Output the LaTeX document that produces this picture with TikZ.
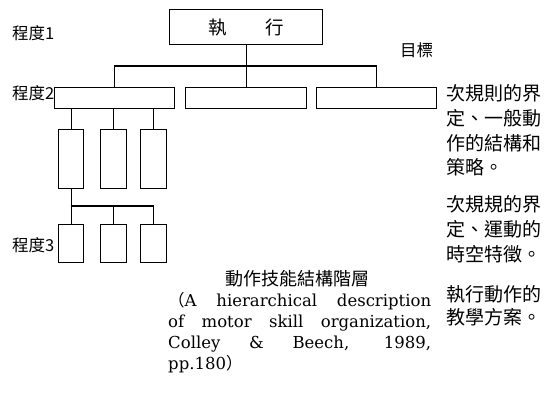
\documentclass[tikz,border=0pt]{standalone}
\usepackage{fontspec}
\newfontfamily\cjk{Noto Sans CJK TC}
\newfontfamily\engfont{DejaVu Serif}
\begin{document}
\begin{tikzpicture}[x=1pt,y=-1pt,
  box/.style={draw, line width=1.1pt, inner sep=0pt, anchor=north west},
  conn/.style={line width=1.1pt},
  lvl/.style={anchor=west, inner sep=0pt, font=\cjk\fontsize{16.5}{18}\selectfont},
  side/.style={anchor=west, inner sep=0pt, font=\cjk\fontsize{19}{22}\selectfont},
  eng/.style={anchor=base west, inner sep=0pt, font=\engfont\fontsize{16.5}{18}\selectfont}]
\useasboundingbox (0,0) rectangle (552,392);
% level 1
\node[box, minimum width=153pt, minimum height=35pt] (top) at (169,9) {};
\node[inner sep=0pt, font=\cjk\fontsize{18.5}{20}\selectfont] (toptxt) at (top.center) {執\hspace{38pt}行};
% level 2
\node[box, minimum width=120pt, minimum height=21pt] (l2a) at (54,87) {};
\node[box, minimum width=121pt, minimum height=21pt] (l2b) at (185,87) {};
\node[box, minimum width=120pt, minimum height=21pt] (l2c) at (316,87) {};
% tall boxes
\node[box, minimum width=25pt, minimum height=59pt] (t1) at (58,129) {};
\node[box, minimum width=26pt, minimum height=59pt] (t2) at (100,129) {};
\node[box, minimum width=26pt, minimum height=59pt] (t3) at (140,129) {};
% level 3
\node[box, minimum width=25pt, minimum height=38pt] (b1) at (58,224) {};
\node[box, minimum width=26pt, minimum height=38pt] (b2) at (100,224) {};
\node[box, minimum width=26pt, minimum height=38pt] (b3) at (140,224) {};
% connectors
\coordinate (j1) at (245.5,66);
\coordinate (j2) at (70.5,206);
\draw[conn] (top.south) -- (l2b.north);
\draw[conn] (l2a.north) |- (j1) -| (l2c.north);
\draw[conn] (t1.north) -- (t1.north |- l2a.south);
\draw[conn] (t2.north) -- (t2.north |- l2a.south);
\draw[conn] (t3.north) -- (t3.north |- l2a.south);
\draw[conn] (t1.south) -- (b1.north);
\draw[conn] (j2) -| (b2.north);
\draw[conn] (j2) -| (b3.north);
% level labels
\node[lvl] (p1) at (12,33) {程度1};
\node[lvl] (p2) at (12,93) {程度2};
\node[lvl] (p3) at (12,245) {程度3};
\node[lvl] (goal) at (400,50) {目標};
% side texts
\node[side] (s1) at (446,93) {次規則的界};
\node[side] (s2) at (446,118) {定、一般動};
\node[side] (s3) at (446,143) {作的結構和};
\node[side] (s4) at (446,167) {策略。};
\node[side] (s5) at (446,204) {次規規的界};
\node[side] (s6) at (446,229) {定、運動的};
\node[side] (s7) at (446,254) {時空特徵。};
\node[side] (s8) at (446,294) {執行動作的};
\node[side] (s9) at (446,317) {教學方案。};
% caption
\node[inner sep=0pt, font=\cjk\fontsize{18}{20}\selectfont] (cap) at (297,279) {動作技能結構階層};
\node[eng] (e1) at (168,306) {\makebox[263pt][s]{{\cjk（}A hierarchical description}};
\node[eng] (e2) at (168,327) {\makebox[263pt][s]{of motor skill organization,}};
\node[eng] (e3) at (168,348) {\makebox[263pt][s]{Colley \& Beech, 1989,}};
\node[eng] (e4) at (168,369) {pp.180{\cjk）}};
\end{tikzpicture}
\end{document}
